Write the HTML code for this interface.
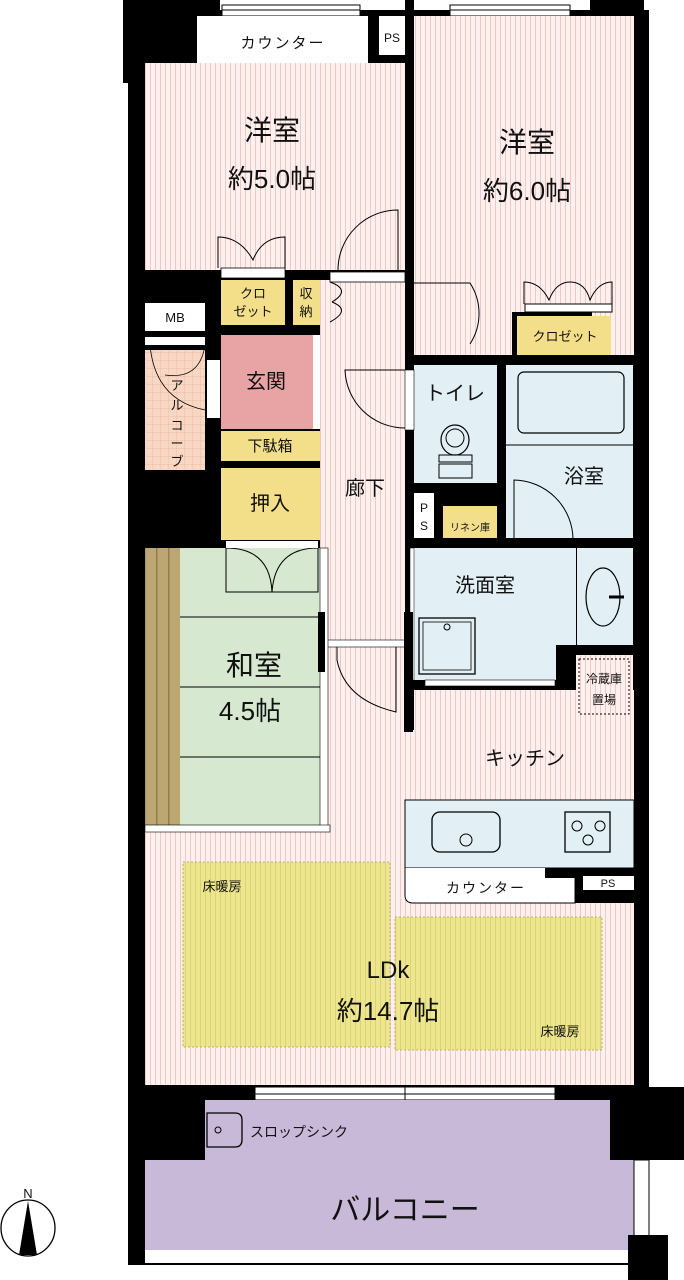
<!DOCTYPE html>
<html><head><meta charset="utf-8"><style>
body{margin:0;background:#fff;width:684px;height:1280px;overflow:hidden}
svg{display:block}
text{font-family:"Liberation Sans","Noto Sans CJK JP",sans-serif;fill:#111}
</style></head><body>
<svg width="684" height="1280" viewBox="0 0 684 1280" xmlns="http://www.w3.org/2000/svg">
<defs>
<pattern id="pk" width="5" height="10" patternUnits="userSpaceOnUse"><rect width="5" height="10" fill="#fdf0ee"/><rect width="1" height="10" fill="#f0c9c4"/></pattern>
<pattern id="yl" width="5" height="10" patternUnits="userSpaceOnUse"><rect width="5" height="10" fill="#ede68c"/><rect width="1" height="10" fill="#dcd27a"/></pattern>
<pattern id="al" width="8" height="8" patternUnits="userSpaceOnUse"><rect width="8" height="8" fill="#f8d8c4"/><path d="M0 0H8M0 0V8" stroke="#eab39a" stroke-width="0.7"/></pattern>
<pattern id="br" width="12" height="10" patternUnits="userSpaceOnUse"><rect width="12" height="10" fill="#bca672"/><rect width="1.5" height="10" fill="#8f7d4e"/></pattern>
</defs>
<rect x="128" y="10" width="521" height="1255" fill="#000"/>
<rect x="123" y="0" width="97" height="83" fill="#000"/>
<rect x="590" y="0" width="54" height="83" fill="#000"/>
<rect x="222" y="5" width="138" height="11" fill="#fff" stroke="#000"/>
<line x1="222" y1="10" x2="360" y2="10" stroke="#000"/>
<rect x="450" y="5" width="120" height="11" fill="#fff" stroke="#000"/>
<line x1="450" y1="10" x2="570" y2="10" stroke="#000"/>
<rect x="197" y="16" width="171" height="47" fill="#fff"/>
<text x="283" y="48" font-size="15" text-anchor="middle" letter-spacing="2">カウンター</text>
<rect x="379" y="16" width="26" height="39" fill="#fff"/>
<text x="392" y="42" font-size="12" text-anchor="middle">PS</text>
<rect x="145" y="63" width="260" height="207" fill="url(#pk)"/>
<rect x="414" y="16" width="220" height="340" fill="url(#pk)"/>
<rect x="414" y="16" width="177" height="70" fill="url(#pk)"/>
<rect x="512" y="312" width="80" height="44" fill="#000"/>
<rect x="517" y="316" width="94" height="42" fill="#f3df8a"/>
<rect x="525" y="304" width="87" height="8" fill="#fff" stroke="#000" stroke-width="1"/>
<text x="565" y="341" font-size="13" text-anchor="middle">クロゼット</text>
<text x="272" y="140" font-size="28" text-anchor="middle">洋室</text>
<text x="272" y="188" font-size="26" text-anchor="middle">約5.0帖</text>
<text x="527" y="152" font-size="28" text-anchor="middle">洋室</text>
<text x="527" y="200" font-size="26" text-anchor="middle">約6.0帖</text>
<rect x="320" y="280" width="85" height="560" fill="url(#pk)"/>
<rect x="330" y="272" width="75" height="10" fill="#fff" stroke="#000" stroke-width="0.8"/>
<text x="365" y="495" font-size="20" text-anchor="middle">廊下</text>
<rect x="221" y="280" width="64" height="45" fill="#f3df8a"/>
<rect x="221" y="268" width="64" height="10" fill="#fff" stroke="#000" stroke-width="0.8"/>
<text x="253" y="298" font-size="13" text-anchor="middle">クロ</text>
<text x="253" y="316" font-size="13" text-anchor="middle">ゼット</text>
<rect x="293" y="280" width="27" height="45" fill="#f3df8a"/>
<text x="306" y="298" font-size="13" text-anchor="middle">収</text>
<text x="306" y="316" font-size="13" text-anchor="middle">納</text>
<rect x="145" y="303" width="60" height="28" fill="#fff"/>
<text x="175" y="322" font-size="13" text-anchor="middle">MB</text>
<rect x="145" y="337" width="60" height="8" fill="#fff"/>
<rect x="145" y="350" width="60" height="120" fill="url(#al)"/>
<rect x="207" y="360" width="13" height="58" fill="#fff"/>
<text x="177" y="390" font-size="13" text-anchor="middle">ア</text>
<text x="177" y="410" font-size="13" text-anchor="middle">ル</text>
<text x="177" y="430" font-size="13" text-anchor="middle">コ</text>
<text x="177" y="448" font-size="13" text-anchor="middle">ー</text>
<text x="177" y="466" font-size="13" text-anchor="middle">ブ</text>
<path d="M150 345 Q155 400 205 410 M205 345 Q200 380 165 375" fill="none" stroke="#000" stroke-width="0.8"/>
<rect x="221" y="335" width="92" height="94" fill="#e8a3a4"/>
<rect x="313" y="335" width="7" height="94" fill="#fff"/>
<text x="266" y="388" font-size="20" text-anchor="middle">玄関</text>
<rect x="221" y="431" width="99" height="30" fill="#f3df8a"/>
<text x="270" y="451" font-size="15" text-anchor="middle">下駄箱</text>
<rect x="221" y="468" width="99" height="72" fill="#f3df8a"/>
<text x="270" y="510" font-size="20" text-anchor="middle">押入</text>
<path d="M338 270 A60 60 0 0 1 398 210 V270" fill="none" stroke="#000"/>
<path d="M218 268 V237 Q240 237 253 260 Q262 237 285 237 V268" fill="none" stroke="#000"/>
<path d="M414 283 H470 A56 56 0 0 1 470 344" fill="none" stroke="#000"/>
<path d="M405 370 H345 A60 60 0 0 0 405 428" fill="none" stroke="#000"/>
<path d="M524 304 V282 Q540 282 549 300 Q556 282 570 282 Q585 282 590 300 Q598 282 612 282 V304" fill="none" stroke="#000"/>
<path d="M330 282 Q352 290 332 302 M332 302 Q352 310 330 322" fill="none" stroke="#000"/>
<rect x="414" y="365" width="83" height="118" fill="#e2eff4"/>
<text x="455" y="400" font-size="20" text-anchor="middle">トイレ</text>
<ellipse cx="455" cy="440" rx="14" ry="15" fill="none" stroke="#000" stroke-width="1.2"/>
<circle cx="455" cy="438" r="9" fill="none" stroke="#000"/>
<rect x="439" y="455" width="33" height="7" fill="none" stroke="#000"/>
<rect x="439" y="464" width="33" height="14" fill="none" stroke="#000"/>
<rect x="405" y="370" width="9" height="60" fill="#fff" stroke="#000" stroke-width="0.6"/>
<rect x="506" y="365" width="127" height="175" fill="#e2eff4"/>
<rect x="518" y="372" width="106" height="61" rx="6" fill="none" stroke="#000" stroke-width="1.2"/>
<line x1="506" y1="445" x2="633" y2="445" stroke="#000"/>
<text x="584" y="483" font-size="20" text-anchor="middle">浴室</text>
<path d="M514 540 V480 A60 60 0 0 1 573 540" fill="none" stroke="#000"/>
<rect x="514" y="540" width="60" height="8" fill="#fff"/>
<rect x="414" y="493" width="20" height="45" fill="#fff"/>
<text x="424" y="512" font-size="12" text-anchor="middle">P</text>
<text x="424" y="530" font-size="12" text-anchor="middle">S</text>
<rect x="443" y="506" width="54" height="41" fill="#f3df8a"/>
<text x="470" y="531" font-size="10" text-anchor="middle">リネン庫</text>
<!-- kitchen / LDK floor -->
<rect x="414" y="690" width="220" height="150" fill="url(#pk)"/>
<rect x="145" y="828" width="489" height="257" fill="url(#pk)"/>
<rect x="320" y="640" width="85" height="200" fill="url(#pk)"/>
<rect x="405" y="730" width="10" height="110" fill="url(#pk)"/>
<!-- wash room -->
<rect x="414" y="548" width="142" height="132" fill="#e2eff4"/>
<rect x="556" y="548" width="20" height="97" fill="#e2eff4"/>
<rect x="577" y="548" width="56" height="97" fill="#e2eff4"/>
<ellipse cx="603" cy="597" rx="17" ry="29" fill="none" stroke="#000" stroke-width="1.2"/>
<line x1="609" y1="597" x2="624" y2="597" stroke="#000" stroke-width="3"/>
<text x="485" y="592" font-size="20" text-anchor="middle">洗面室</text>
<rect x="419" y="618" width="56" height="56" fill="none" stroke="#000" stroke-width="1.3"/>
<rect x="423" y="622" width="48" height="48" fill="none" stroke="#000" stroke-width="0.8"/>
<circle cx="447" cy="627" r="3" fill="none" stroke="#000"/>
<rect x="410" y="548" width="4" height="132" fill="#fff" stroke="#000" stroke-width="0.5"/>
<rect x="425" y="680" width="130" height="6" fill="#fff" stroke="#000" stroke-width="0.6"/>
<!-- fridge -->
<rect x="575" y="655" width="58" height="63" fill="url(#pk)"/>
<rect x="579" y="659" width="50" height="55" fill="none" stroke="#000" stroke-dasharray="2,2"/>
<text x="604" y="683" font-size="12" text-anchor="middle">冷蔵庫</text>
<text x="604" y="704" font-size="12" text-anchor="middle">置場</text>
<rect x="327" y="640" width="78" height="7" fill="#fff" stroke="#000" stroke-width="0.6"/>
<path d="M337 647 V660 Q345 700 396 712 V647" fill="none" stroke="#000"/>
<text x="525" y="765" font-size="20" text-anchor="middle">キッチン</text>
<rect x="405" y="800" width="229" height="68" fill="#e2eff4" stroke="#000" stroke-width="1"/>
<rect x="432" y="812" width="68" height="40" rx="8" fill="none" stroke="#000" stroke-width="1.3"/>
<circle cx="466" cy="840" r="6" fill="none" stroke="#000"/>
<rect x="565" y="812" width="45" height="40" fill="none" stroke="#000" stroke-width="1.3"/>
<circle cx="577" cy="826" r="5" fill="none" stroke="#000"/><circle cx="600" cy="826" r="5" fill="none" stroke="#000"/><circle cx="588" cy="840" r="5" fill="none" stroke="#000"/>
<path d="M405 868 V895 Q405 903 413 903 H575 V868" fill="#fff" stroke="#000"/>
<rect x="545" y="868" width="30" height="10" fill="#000"/>
<rect x="575" y="868" width="59" height="35" fill="#000"/>
<text x="486" y="893" font-size="14" text-anchor="middle" letter-spacing="2">カウンター</text>
<rect x="583" y="876" width="51" height="14" fill="#fff"/>
<text x="608" y="887" font-size="11" text-anchor="middle">PS</text>
<rect x="183" y="862" width="207" height="185" fill="url(#yl)" stroke="#b9b070" stroke-dasharray="2,2"/>
<rect x="395" y="917" width="207" height="133" fill="url(#yl)" stroke="#b9b070" stroke-dasharray="2,2"/>
<text x="222" y="891" font-size="13" text-anchor="middle">床暖房</text>
<text x="560" y="1036" font-size="13" text-anchor="middle">床暖房</text>
<text x="388" y="978" font-size="24" text-anchor="middle">LDk</text>
<text x="388" y="1020" font-size="26" text-anchor="middle">約14.7帖</text>
<rect x="145" y="548" width="35" height="280" fill="url(#br)"/>
<rect x="180" y="548" width="140" height="280" fill="#d6e8d0"/>
<path d="M180 617H320M180 687H320M180 757H320" stroke="#000"/>
<path d="M226 548 V592 H318 V548 M226 548 Q270 548 272 592 Q275 548 318 548" fill="none" stroke="#000"/>
<rect x="226" y="541" width="92" height="7" fill="#fff"/>
<rect x="320" y="548" width="8" height="280" fill="#fff" stroke="#000" stroke-width="0.6"/>
<rect x="145" y="825" width="185" height="7" fill="#fff" stroke="#000" stroke-width="0.6"/>
<text x="254" y="675" font-size="28" text-anchor="middle">和室</text>
<text x="250" y="720" font-size="26" text-anchor="middle">4.5帖</text>
<rect x="405" y="0" width="9" height="270" fill="#000"/>
<rect x="405" y="355" width="229" height="10" fill="#000"/>
<rect x="497" y="355" width="9" height="193" fill="#000"/>
<rect x="405" y="538" width="229" height="10" fill="#000"/>
<rect x="404" y="612" width="9" height="120" fill="#000"/>
<rect x="318" y="612" width="7" height="60" fill="#000"/>
<rect x="556" y="645" width="20" height="45" fill="#000"/>
<rect x="255" y="1087" width="300" height="13" fill="#fff" stroke="#000"/>
<line x1="255" y1="1094" x2="555" y2="1094" stroke="#000"/>
<line x1="405" y1="1087" x2="405" y2="1100" stroke="#000"/>
<rect x="205" y="1100" width="405" height="62" fill="#c8b9d8"/>
<rect x="145" y="1160" width="489" height="90" fill="#c8b9d8"/>
<rect x="610" y="1087" width="74" height="73" fill="#000"/>
<rect x="634" y="1160" width="15" height="80" fill="#fff" stroke="#000"/>
<rect x="145" y="1250" width="489" height="13" fill="#fff"/>
<rect x="628" y="1235" width="40" height="45" fill="#000"/>
<path d="M207 1113 H235 Q242 1113 242 1120 V1140 Q242 1147 235 1147 H207 Z" fill="none" stroke="#000" stroke-width="1.3"/>
<circle cx="218" cy="1130" r="3" fill="none" stroke="#000"/>
<text x="250" y="1137" font-size="14">スロップシンク</text>
<text x="405" y="1220" font-size="30" text-anchor="middle">バルコニー</text>
<text x="28" y="1198" font-size="13" text-anchor="middle">N</text>
<ellipse cx="28" cy="1228" rx="27" ry="28" fill="none" stroke="#000" stroke-width="1.3"/>
<path d="M28 1201 L19 1255 H37 Z" fill="#000"/>
</svg>
</body></html>
